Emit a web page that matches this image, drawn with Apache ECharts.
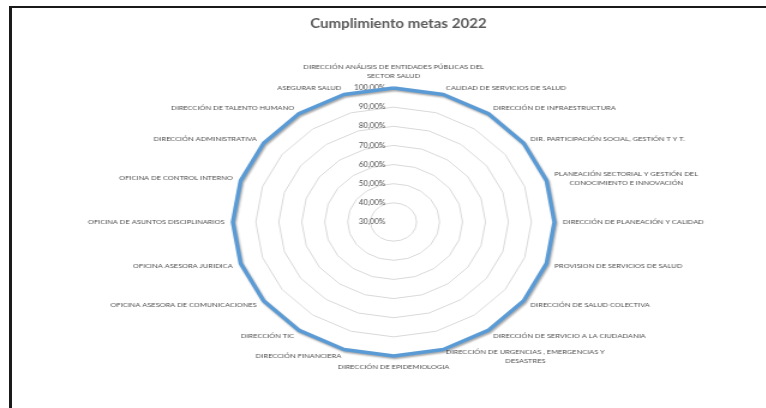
<!DOCTYPE html>
<html>
<head>
<meta charset="utf-8">
<script src="https://cdn.jsdelivr.net/npm/echarts@6/dist/echarts.min.js"></script>
<style>
  html, body { margin: 0; padding: 0; background: #fff; width: 766px; height: 408px; overflow: hidden; }
  /* chart drawn on a narrower canvas, then widened so the radar becomes an ellipse */
  #grafico { position: absolute; left: 0; top: 0; width: 638px; height: 408px; transform: scaleX(1.2); transform-origin: 0 0; }
  #marco { position: absolute; left: 9px; top: 6px; width: 757px; height: 402px; box-sizing: border-box;
           border-top: 2px solid #1a1a1a; border-left: 3px solid #1a1a1a; pointer-events: none; }
</style>
</head>
<body>
<div id="grafico"></div>
<div id="marco"></div>
<script>
const titulo = 'Cumplimiento metas 2022';

// dependencias en sentido horario, empezando arriba
const dependencias = [
  'DIRECCIÓN ANÁLISIS DE ENTIDADES PÚBLICAS DEL\nSECTOR SALUD',
  'CALIDAD DE SERVICIOS DE SALUD',
  'DIRECCIÓN DE INFRAESTRUCTURA',
  'DIR. PARTICIPACIÓN SOCIAL, GESTIÓN T Y T.',
  'PLANEACIÓN SECTORIAL Y GESTIÓN DEL\nCONOCIMIENTO E INNOVACIÓN',
  'DIRECCIÓN DE PLANEACIÓN Y CALIDAD',
  'PROVISION DE SERVICIOS DE SALUD',
  'DIRECCIÓN DE SALUD COLECTIVA',
  'DIRECCIÓN DE SERVICIO A LA CIUDADANIA',
  'DIRECCIÓN DE URGENCIAS , EMERGENCIAS Y\nDESASTRES',
  'DIRECCIÓN DE EPIDEMIOLOGIA',
  'DIRECCIÓN FINANCIERA',
  'DIRECCIÓN TIC',
  'OFICINA ASESORA DE COMUNICACIONES',
  'OFICINA ASESORA JURIDICA',
  'OFICINA DE ASUNTOS DISCIPLINARIOS',
  'OFICINA DE CONTROL INTERNO',
  'DIRECCIÓN ADMINISTRATIVA',
  'DIRECCIÓN DE TALENTO HUMANO',
  'ASEGURAR SALUD'
];

// porcentaje de cumplimiento por dependencia
const cumplimiento = [
  100, 100, 100, 100, 100, 100, 100, 100, 100, 100,
  100, 100, 100, 100, 100, 100, 100, 100, 100, 100
];

const ejeMin = 30;
const ejeMax = 100;
const ejePaso = 10;

const gris = '#4d4d4d';
const azul = '#5b9bd5';
const fuente = 'Lato, "Open Sans", sans-serif';

const formatoPct = v => v.toFixed(2).replace('.', ',') + '%';

// el radar de ECharts avanza en sentido antihorario: se invierte el orden tras el primer eje
const orden = [0].concat(dependencias.map((_, i) => i).slice(1).reverse());

const chart = echarts.init(document.getElementById('grafico'), null, { renderer: 'canvas' });

chart.setOption({
  backgroundColor: 'transparent',
  animation: false,
  title: {
    text: titulo,
    left: 327,
    top: 12,
    textAlign: 'center',
    textStyle: { fontFamily: fuente, fontSize: 12.5, fontWeight: 'bold', color: '#595959' }
  },
  radar: {
    center: [328, 222],
    radius: 134,
    startAngle: 90,
    shape: 'polygon',
    splitNumber: (ejeMax - ejeMin) / ejePaso,
    nameGap: 7,
    axisName: {
      color: gris,
      fontFamily: fuente,
      fontSize: 6.2,
      formatter: n => n.split('\n').map(l => '{c|' + l + '}').join('\n'),
      rich: { c: { align: 'center', color: gris, fontFamily: fuente, fontSize: 6.2, lineHeight: 9 } }
    },
    axisLine: { show: false },
    axisTick: { show: false },
    splitArea: { show: false },
    splitLine: { lineStyle: { color: '#d9d9d9', width: 1 } },
    axisLabel: {
      show: true,
      margin: 7,
      color: gris,
      fontFamily: fuente,
      fontSize: 6.6,
      formatter: v => formatoPct(v)
    },
    indicator: orden.map((k, i) => ({
      name: dependencias[k],
      min: ejeMin,
      max: ejeMax,
      axisLabel: { show: i === 0 }
    }))
  },
  series: [{
    type: 'radar',
    symbol: 'none',
    silent: true,
    lineStyle: {
      color: azul,
      width: 3.5,
      shadowColor: 'rgba(0,0,0,0.35)',
      shadowBlur: 2,
      shadowOffsetX: 1,
      shadowOffsetY: 1.5
    },
    data: [{ value: orden.map(k => cumplimiento[k]), name: titulo }]
  }]
});
</script>
</body>
</html>
